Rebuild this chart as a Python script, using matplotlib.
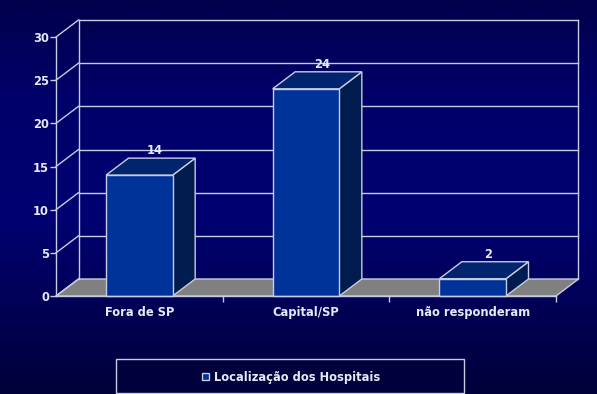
import numpy as np
import matplotlib.pyplot as plt
from matplotlib.colors import LinearSegmentedColormap
from matplotlib.patches import Polygon, Rectangle

categories = ["Fora de SP", "Capital/SP", "não responderam"]
values = [14, 24, 2]
y_ticks = [0, 5, 10, 15, 20, 25, 30]
legend_label = "Localização dos Hospitais"

W, H, DPI = 597, 394, 100
FRONT = "#003399"
TOP = "#00256e"
SIDE = "#001c4e"
EDGE = "#c8cce0"
FLOOR = "#808080"
TXT = "#e4eaf6"

fig = plt.figure(figsize=(W / DPI, H / DPI), dpi=DPI)

# gradient background
bg = fig.add_axes([0, 0, 1, 1])
bg_cmap = LinearSegmentedColormap.from_list(
    "bg", [(0, "#00003a"), (0.45, "#000072"), (0.75, "#00006a"), (1, "#00004c")])
bg.imshow(np.linspace(0, 1, 256).reshape(-1, 1), aspect="auto", cmap=bg_cmap,
          origin="lower", extent=[0, 1, 0, 1])
bg.axis("off")

# main axes spans the figure; limits chosen so the front plane sits where the chart is
ax = fig.add_axes([0, 0, 1, 1])
ax.patch.set_alpha(0)
x_px0, x_px1 = 56, 556      # front x = 0 .. 3
y_px0, y_px1 = 98, 357      # front y = 0 .. 30 (from bottom)
sx = (x_px1 - x_px0) / 3
sy = (y_px1 - y_px0) / 30
ax.set_xlim(-x_px0 / sx, (W - x_px0) / sx)
ax.set_ylim(-y_px0 / sy, (H - y_px0) / sy)
dx, dy = 22.5 / sx, 17 / sy   # 3D depth in data units
ymax = y_ticks[-1]
n = len(categories)

# floor
ax.add_patch(Polygon([(0, 0), (n, 0), (n + dx, dy), (dx, dy)], closed=True,
                     facecolor=FLOOR, edgecolor=EDGE, lw=1, zorder=1))

# back wall and side wall gridlines
for t in y_ticks:
    ax.plot([0, dx], [t, t + dy], color=EDGE, lw=1, zorder=1)
    if t > 0:
        ax.plot([dx, n + dx], [t + dy, t + dy], color=EDGE, lw=1, zorder=1)
ax.plot([dx, dx], [dy, ymax + dy], color=EDGE, lw=1, zorder=1)
ax.plot([n + dx, n + dx], [dy, ymax + dy], color=EDGE, lw=1, zorder=1)

# bars
bw = 0.4
for i, v in enumerate(values):
    x0 = i + 0.5 - bw / 2
    x1 = x0 + bw
    ax.add_patch(Polygon([(x1, 0), (x1 + dx, dy), (x1 + dx, v + dy), (x1, v)],
                         closed=True, facecolor=SIDE, edgecolor=EDGE, lw=1, zorder=3))
    ax.add_patch(Polygon([(x0, v), (x1, v), (x1 + dx, v + dy), (x0 + dx, v + dy)],
                         closed=True, facecolor=TOP, edgecolor=EDGE, lw=1, zorder=3))
    ax.add_patch(Rectangle((x0, 0), bw, v, facecolor=FRONT, edgecolor=EDGE,
                           lw=1, zorder=4))
    ax.text(i + 0.5 + dx * 0.7, v + dy + 0.1, str(v), ha="center", va="bottom",
            color=TXT, fontsize=8.3, fontweight="bold", zorder=5)

# axes: left value axis and bottom category axis
for s in ["top", "right"]:
    ax.spines[s].set_visible(False)
ax.spines["left"].set_position(("data", 0))
ax.spines["left"].set_bounds(0, ymax)
ax.spines["bottom"].set_position(("data", 0))
ax.spines["bottom"].set_bounds(0, n)
for s in ["left", "bottom"]:
    ax.spines[s].set_color(EDGE)
    ax.spines[s].set_linewidth(1)
    ax.spines[s].set_zorder(6)
ax.set_yticks(y_ticks)
ax.tick_params(axis="y", colors=EDGE, labelcolor=TXT, labelsize=8.3, length=4, width=1, pad=1)
ax.set_xticks([i + 0.5 for i in range(n)])
ax.set_xticklabels(categories, va="baseline")
ax.set_xticks(range(1, n + 1), minor=True)
ax.tick_params(axis="x", which="major", length=0, labelcolor=TXT, labelsize=8.3, pad=14.5)
ax.tick_params(axis="x", which="minor", colors=EDGE, length=4, width=1)
for lab in ax.get_xticklabels() + ax.get_yticklabels():
    lab.set_fontweight("bold")

# legend: frame drawn as a rectangle in figure coords, entry centred inside it
ax.add_patch(Rectangle((116 / W, 1 / H), 348 / W, 34 / H, transform=fig.transFigure,
                       facecolor="#00003c", edgecolor=EDGE, lw=1, zorder=2,
                       clip_on=False))
leg = ax.legend([Rectangle((0, 0), 1, 1, facecolor=FRONT, edgecolor=EDGE, lw=1)],
                [legend_label], loc="center", bbox_to_anchor=(291 / W, 17 / H),
                bbox_transform=fig.transFigure, frameon=False,
                handlelength=0.6, handleheight=0.6, handletextpad=0.4,
                prop={"size": 8.3, "weight": "bold"})
leg.set_zorder(7)
for t in leg.get_texts():
    t.set_color(TXT)

fig.savefig("out.png", dpi=DPI)
